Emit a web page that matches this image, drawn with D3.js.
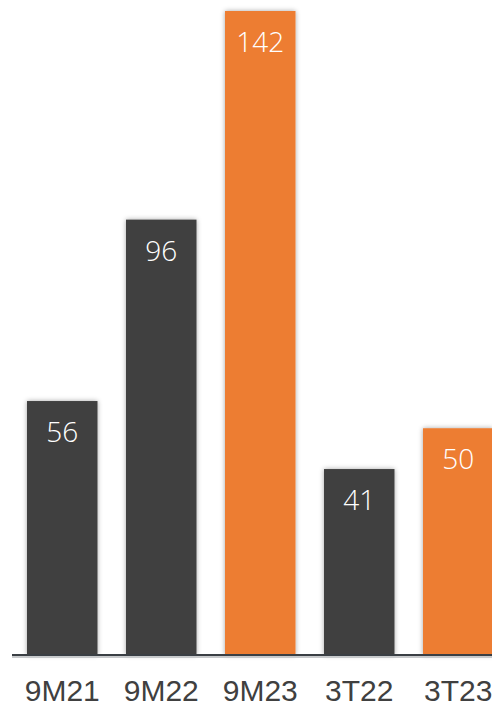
<!DOCTYPE html>
<html>
<head>
<meta charset="utf-8">
<script src="https://cdn.jsdelivr.net/npm/d3@7"></script>
<style>
  body { margin: 0; background: #fff; overflow: hidden; }
  .bar-label { font-family: "Open Sans", sans-serif; font-weight: 300; font-size: 28px; fill: #fff; }
  .cat-label { font-family: "Liberation Sans", Arial, sans-serif; font-size: 30px; fill: #404040; }
</style>
</head>
<body>
<div id="chart"></div>
<script>
const categories = ['9M21', '9M22', '9M23', '3T22', '3T23'];
const values = [56, 96, 142, 41, 50];
const highlight = [false, false, true, false, true];

const width = 492, height = 706;
const baseY = 655;

const svg = d3.select('#chart').append('svg')
  .attr('width', width)
  .attr('height', height);

// soft shadow round the bars
const defs = svg.append('defs');
defs.append('filter')
  .attr('id', 'shadow')
  .attr('x', '-20%').attr('y', '-5%')
  .attr('width', '140%').attr('height', '110%')
  .append('feDropShadow')
  .attr('dx', 0).attr('dy', 0)
  .attr('stdDeviation', 2.5)
  .attr('flood-color', '#000')
  .attr('flood-opacity', 0.35);

const x = d3.scaleBand()
  .domain(categories)
  .range([27, 493.5])
  .paddingInner(0.288)
  .paddingOuter(0);

const y = d3.scaleLinear()
  .domain([0, 142])
  .range([baseY, 11]);

const data = categories.map((c, i) => ({ cat: c, value: values[i], hl: highlight[i] }));

const chart = svg.append('g');

chart.selectAll('.bar')
  .data(data)
  .join('rect')
  .attr('class', 'bar')
  .attr('x', d => x(d.cat))
  .attr('y', d => y(d.value))
  .attr('width', x.bandwidth())
  .attr('height', d => baseY - y(d.value))
  .attr('fill', d => d.hl ? '#ED7D31' : '#404040')
  .attr('filter', 'url(#shadow)');

chart.selectAll('.bar-label')
  .data(data)
  .join('text')
  .attr('class', 'bar-label')
  .attr('x', d => x(d.cat) + x.bandwidth() / 2)
  .attr('y', d => y(d.value) + 41)
  .attr('text-anchor', 'middle')
  .text(d => d.value);

// axis line with a faint shade under it
svg.append('line')
  .attr('x1', 12).attr('x2', width)
  .attr('y1', baseY + 2).attr('y2', baseY + 2)
  .attr('stroke', '#c8cacc')
  .attr('stroke-width', 2);
svg.append('line')
  .attr('x1', 12).attr('x2', width)
  .attr('y1', baseY).attr('y2', baseY)
  .attr('stroke', '#3a3f44')
  .attr('stroke-width', 2);

svg.selectAll('.cat-label')
  .data(categories)
  .join('text')
  .attr('class', 'cat-label')
  .attr('x', d => x(d) + x.bandwidth() / 2)
  .attr('y', 701)
  .attr('text-anchor', 'middle')
  .text(d => d);
</script>
</body>
</html>
